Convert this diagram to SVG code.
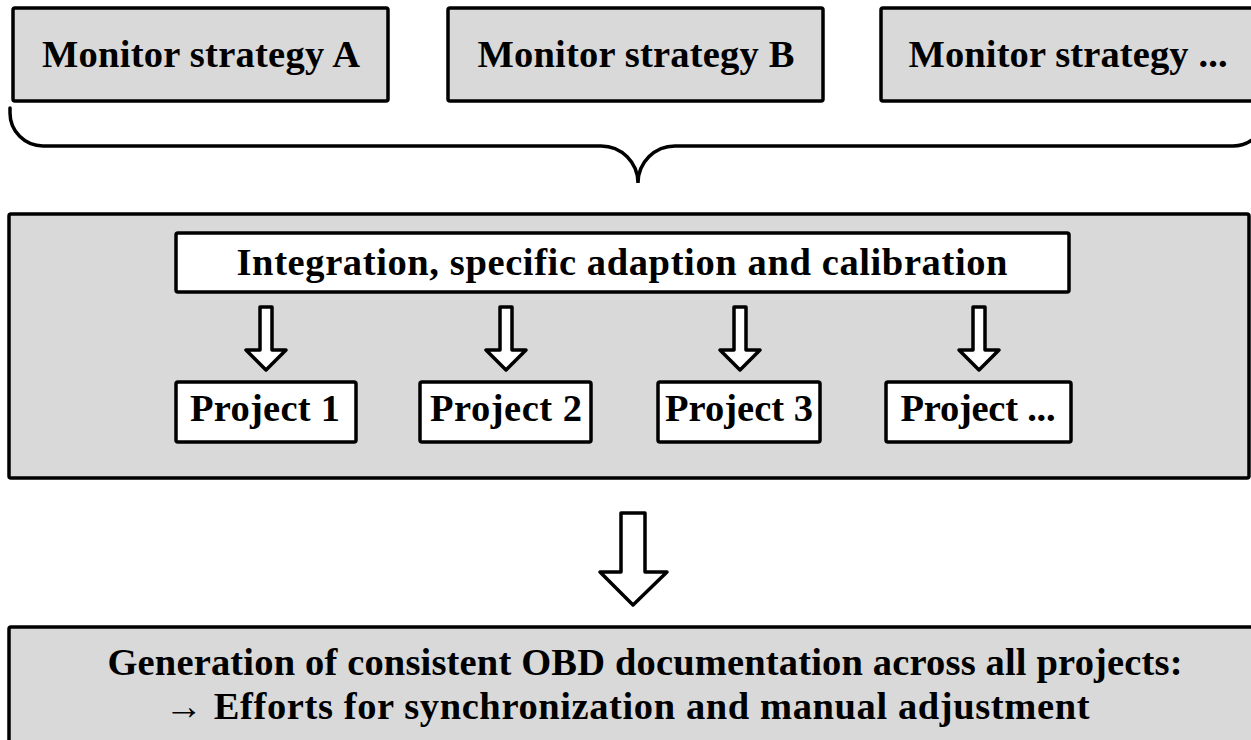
<svg xmlns="http://www.w3.org/2000/svg" width="1251" height="740" viewBox="0 0 1251 740">
<style>
.box{fill:#d9d9d9;stroke:#000;stroke-width:3.5}
.wbox{fill:#fff;stroke:#000;stroke-width:3.5}
.t{font-family:"Liberation Serif","Times New Roman",serif;font-weight:bold;font-size:38.5px;fill:#000;text-anchor:middle}
.arr{fill:#fff;stroke:#000;stroke-width:3.5;stroke-linejoin:round}
.brace{fill:none;stroke:#000;stroke-width:3.5;stroke-linecap:round}
</style>
<defs>
<path id="sa" d="M-6,307 L6,307 L6,350 L20,350 L0,370 L-20,350 L-6,350 Z"/>
</defs>
<rect x="0" y="0" width="1251" height="740" fill="#fff"/>
<g id="strategyA"><rect class="box" x="13" y="8" width="375" height="93" rx="2"/><text class="t" x="201" y="67" textLength="318" lengthAdjust="spacing">Monitor strategy A</text></g>
<g id="strategyB"><rect class="box" x="448" y="8" width="375" height="93" rx="2"/><text class="t" x="636" y="67" textLength="317" lengthAdjust="spacing">Monitor strategy B</text></g>
<g id="strategyN"><rect class="box" x="881" y="8" width="375" height="93" rx="2"/><text class="t" x="1068" y="67" textLength="319" lengthAdjust="spacing">Monitor strategy ...</text></g>
<g id="brace"><path class="brace" d="M10,108 L10,113 A33,33 0 0 0 43,146 L601,146 A37,37 0 0 1 638,183 A37,37 0 0 1 675,146 L1233,146 A33,33 0 0 0 1266,113"/></g>
<g id="container"><rect class="box" x="9" y="214" width="1240" height="264" rx="2"/></g>
<g id="integration"><rect class="wbox" x="176" y="233" width="893" height="59" rx="2"/><text class="t" x="622" y="275" textLength="771" lengthAdjust="spacing">Integration, specific adaption and calibration</text></g>
<g id="connectors">
<use href="#sa" class="arr" x="266"/>
<use href="#sa" class="arr" x="506"/>
<use href="#sa" class="arr" x="740"/>
<use href="#sa" class="arr" x="979"/>
<path class="arr" d="M621,513 L645,513 L645,572 L667,572 L633,605 L600,572 L621,572 Z"/>
</g>
<g id="project1"><rect class="wbox" x="176" y="382" width="180" height="60" rx="2"/><text class="t" x="265" y="421" textLength="150" lengthAdjust="spacing">Project 1</text></g>
<g id="project2"><rect class="wbox" x="420" y="382" width="171" height="60" rx="2"/><text class="t" x="506" y="421" textLength="152" lengthAdjust="spacing">Project 2</text></g>
<g id="project3"><rect class="wbox" x="658" y="382" width="162" height="60" rx="2"/><text class="t" x="739" y="421" textLength="148" lengthAdjust="spacing">Project 3</text></g>
<g id="projectN"><rect class="wbox" x="886" y="382" width="185" height="60" rx="2"/><text class="t" x="978" y="421" textLength="155" lengthAdjust="spacing">Project ...</text></g>
<g id="result"><rect class="box" x="9" y="627" width="1260" height="130" rx="2"/>
<text class="t" x="645" y="675" textLength="1075" lengthAdjust="spacing">Generation of consistent OBD documentation across all projects:</text>
<text class="t" x="627" y="719" textLength="925" lengthAdjust="spacing">→ Efforts for synchronization and manual adjustment</text></g>
</svg>
